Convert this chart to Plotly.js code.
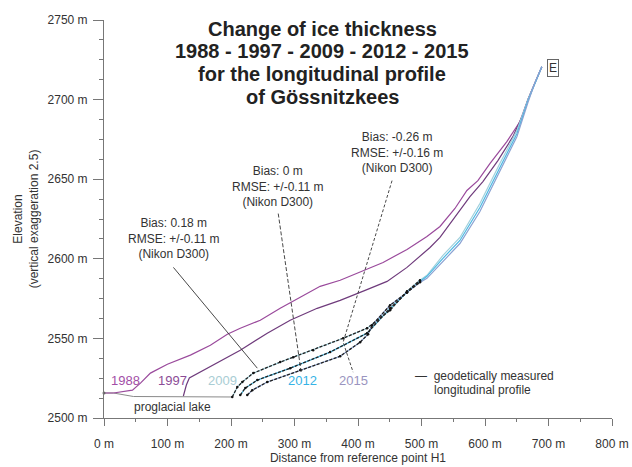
<!DOCTYPE html>
<html>
<head>
<meta charset="utf-8">
<script src="https://cdn.plot.ly/plotly-3.0.1.min.js"></script>
<style>html,body{margin:0;padding:0;background:#fff;}#chart{width:632px;height:467px;}</style>
</head>
<body>
<div id="chart"></div>
<script>
// Surface profiles (distance from H1 in m, elevation in m)
const x1988 = [0, 14.9, 44.8, 57.4, 73.1, 99.8, 136.0, 167.5, 194.2, 214.6, 246.1, 277.5, 309.0, 340.4, 371.9, 403.3, 439.5, 477.2, 508.6, 529.1, 552.7, 571.5, 588.8, 607.7, 634.4, 654.9, 667.5, 678.5, 689.5];
const y1988 = [2515.7, 2515.7, 2517.5, 2521.9, 2528.2, 2533.8, 2539.5, 2545.7, 2552.6, 2556.4, 2561.4, 2568.9, 2575.8, 2582.7, 2586.5, 2591.5, 2597.7, 2605.9, 2614.0, 2620.3, 2631.6, 2642.9, 2649.1, 2659.8, 2673.6, 2686.1, 2699.9, 2710.5, 2720.6];

const x1997 = [125.0, 129.7, 134.4, 151.7, 178.5, 214.6, 257.1, 293.2, 335.7, 371.9, 411.2, 445.8, 477.2, 513.4, 529.1, 555.8, 576.3, 596.7, 620.3, 643.9, 659.6, 667.5, 678.5, 689.5];
const y1997 = [2513.8, 2520.7, 2525.1, 2528.8, 2534.5, 2542.6, 2553.3, 2561.4, 2568.9, 2573.9, 2580.2, 2585.8, 2594.6, 2607.1, 2613.4, 2627.8, 2639.1, 2648.5, 2661.7, 2676.7, 2690.5, 2699.9, 2710.5, 2720.6];

const x2009 = [202.0, 209.9, 217.8, 235.1, 277.5, 298.0, 329.4, 376.6, 414.3, 450.5, 477.2, 497.6, 508.6, 533.8, 560.5, 592.0, 623.4, 650.2, 667.5, 678.5, 689.5];
const y2009 = [2513.2, 2519.4, 2522.6, 2528.2, 2535.1, 2538.2, 2542.6, 2550.1, 2556.4, 2567.7, 2579.6, 2586.5, 2589.6, 2602.2, 2613.4, 2634.7, 2659.8, 2680.5, 2699.9, 2710.5, 2720.6];

const x2012 = [214.6, 222.5, 241.4, 293.2, 356.1, 414.3, 450.5, 477.2, 497.6, 508.6, 533.8, 560.5, 592.0, 623.4, 650.2, 667.5, 678.5, 689.5];
const y2012 = [2514.4, 2518.8, 2523.8, 2531.3, 2541.4, 2553.3, 2568.9, 2578.9, 2585.8, 2589.0, 2600.3, 2611.5, 2632.2, 2657.3, 2678.6, 2699.2, 2710.5, 2720.6];

const x2015 = [225.6, 233.5, 257.1, 309.0, 371.9, 403.3, 415.9, 422.2, 450.5, 477.2, 497.6, 508.6, 533.8, 560.5, 592.0, 623.4, 650.2, 667.5, 678.5, 689.5];
const y2015 = [2514.4, 2517.5, 2522.6, 2530.1, 2538.8, 2547.6, 2552.6, 2558.3, 2570.8, 2578.9, 2585.2, 2587.7, 2598.4, 2609.6, 2629.7, 2654.8, 2676.7, 2698.0, 2710.5, 2720.6];

// Proglacial lake level
const xLake = [0, 14.9, 46.4, 202.0];
const yLake = [2515.7, 2515.7, 2513.5, 2513.2];

// Extent of geodetically measured profile (m)
const geoMaxX = 498;

// Accuracy notes and their leader lines
const noteText = [
  'Bias: 0.18 m<br>RMSE: +/-0.11 m<br>(Nikon D300)',
  'Bias: 0 m<br>RMSE: +/-0.11 m<br>(Nikon D300)',
  'Bias: -0.26 m<br>RMSE: +/-0.16 m<br>(Nikon D300)'
];
const noteX = [109.3, 272.8, 461.5];
const noteY = [2612.8, 2645.4, 2666.7];
const leaderX = [[109.3, 241.4], [274.4, 310.5], [453.6, 376.6, 392.3]];
const leaderY = [[2594.6, 2531.3], [2628.4, 2528.8], [2649.1, 2547.6, 2528.8]];
const leaderDash = ['solid', '4px,2px', '3px,2px'];

const years = ['1988', '1997', '2009', '2012', '2015'];
const yearLabelX = [33.8, 107.7, 186.3, 312.1, 392.3];
const yearLabelY = 2523.8;
const lineColors = ['#9a4a9c', '#6f3b7c', '#9fd0dc', '#4cb9e3', '#8aa2d2'];
const labelColors = ['#a24ea6', '#8c4c96', '#a9cdd4', '#36b3e6', '#9a94c0'];

const titleLines = ['Change of ice thickness', '1988 - 1997 - 2009 - 2012 - 2015', 'for the longitudinal profile', 'of Gössnitzkees'];
const titleY = [2744.4, 2730.6, 2716.2, 2701.8];

const FONT = 'Liberation Sans, Arial, sans-serif';

function geoPart(xs, ys) {
  const gx = [], gy = [];
  for (let i = 0; i < xs.length; i++) { if (xs[i] <= geoMaxX) { gx.push(xs[i]); gy.push(ys[i]); } }
  return [gx, gy];
}

const series = [[x1988, y1988], [x1997, y1997], [x2009, y2009], [x2012, y2012], [x2015, y2015]];
const traces = [];
traces.push({x: xLake, y: yLake, mode: 'lines', line: {color: '#8a8a8a', width: 1}, hoverinfo: 'skip', showlegend: false});
series.forEach((s, i) => {
  traces.push({x: s[0], y: s[1], mode: 'lines', name: years[i], line: {color: lineColors[i], width: 1.2}, showlegend: false});
});
[2, 3, 4].forEach(i => {
  const g = geoPart(series[i][0], series[i][1]);
  traces.push({x: g[0], y: g[1], mode: 'lines+markers', line: {color: '#222', width: 1.3, dash: '3px,1.5px'}, marker: {size: 2.5, color: '#111'}, showlegend: false, hoverinfo: 'skip'});
});
for (let k = 0; k < leaderX.length; k++) {
  traces.push({x: leaderX[k], y: leaderY[k], mode: 'lines', line: {color: '#333', width: 0.9, dash: leaderDash[k]}, showlegend: false, hoverinfo: 'skip'});
}
// H1 point
traces.push({x: [xLake[0]], y: [yLake[0]], mode: 'markers', marker: {size: 3, color: '#666'}, showlegend: false, cliponaxis: false});

const ann = [];
titleLines.forEach((t, i) => ann.push({x: 343.6, y: titleY[i], xref: 'x', yref: 'y', text: '<b>' + t + '</b>', showarrow: false, font: {family: FONT, size: 20, color: '#222'}}));
noteText.forEach((t, i) => ann.push({x: noteX[i], y: noteY[i], xref: 'x', yref: 'y', text: t, showarrow: false, font: {family: FONT, size: 12, color: '#333'}}));
years.forEach((t, i) => ann.push({x: yearLabelX[i], y: yearLabelY, xref: 'x', yref: 'y', text: t, showarrow: false, font: {family: FONT, size: 13, color: labelColors[i]}}));
ann.push({x: 107.7, y: 2506.9, xref: 'x', yref: 'y', text: 'proglacial lake', showarrow: false, font: {family: FONT, size: 12, color: '#333'}});
ann.push({x: -29, y: 2515.0, xref: 'x', yref: 'y', text: 'H1', showarrow: false, font: {family: FONT, size: 12, color: '#333'}});
ann.push({x: 486.6, y: 2526.3, xref: 'x', yref: 'y', xanchor: 'left', text: '—  geodetically measured', showarrow: false, font: {family: FONT, size: 12, color: '#333'}});
ann.push({x: 516.5, y: 2517.5, xref: 'x', yref: 'y', xanchor: 'left', text: 'longitudinal profile', showarrow: false, font: {family: FONT, size: 12, color: '#333'}});
ann.push({x: 706.8, y: 2719.9, xref: 'x', yref: 'y', text: 'E', showarrow: false, bordercolor: '#666', borderwidth: 1, borderpad: 1, font: {family: FONT, size: 12, color: '#333'}});

const layout = {
  width: 632, height: 467,
  margin: {l: 104, r: 20, t: 20, b: 49},
  paper_bgcolor: '#fff', plot_bgcolor: '#fff',
  font: {family: FONT, size: 12, color: '#333'},
  xaxis: {
    range: [0, 800], dtick: 100, tick0: 0, ticksuffix: ' m', showgrid: false, zeroline: false,
    showline: true, linecolor: '#777', linewidth: 1, ticks: 'outside', ticklen: 7, tickcolor: '#777',
    ticklabelstandoff: 8,
    minor: {dtick: 50, ticks: 'outside', ticklen: 3, tickcolor: '#777'},
    title: {text: 'Distance from reference point H1', font: {size: 12, color: '#333'}, standoff: 3}
  },
  yaxis: {
    range: [2500, 2750], dtick: 50, ticksuffix: ' m', showgrid: false, zeroline: false,
    showline: true, linecolor: '#777', linewidth: 1, ticks: 'outside', ticklen: 10, tickcolor: '#777',
    ticklabelstandoff: 3,
    minor: {dtick: 12.5, ticks: 'outside', ticklen: 4, tickcolor: '#777'},
    title: {text: 'Elevation<br>(vertical exaggeration 2.5)', font: {size: 12, color: '#333'}, standoff: 6}
  },
  annotations: ann,
  showlegend: false
};
Plotly.newPlot('chart', traces, layout, {displayModeBar: false, staticPlot: true});
</script>
</body>
</html>
